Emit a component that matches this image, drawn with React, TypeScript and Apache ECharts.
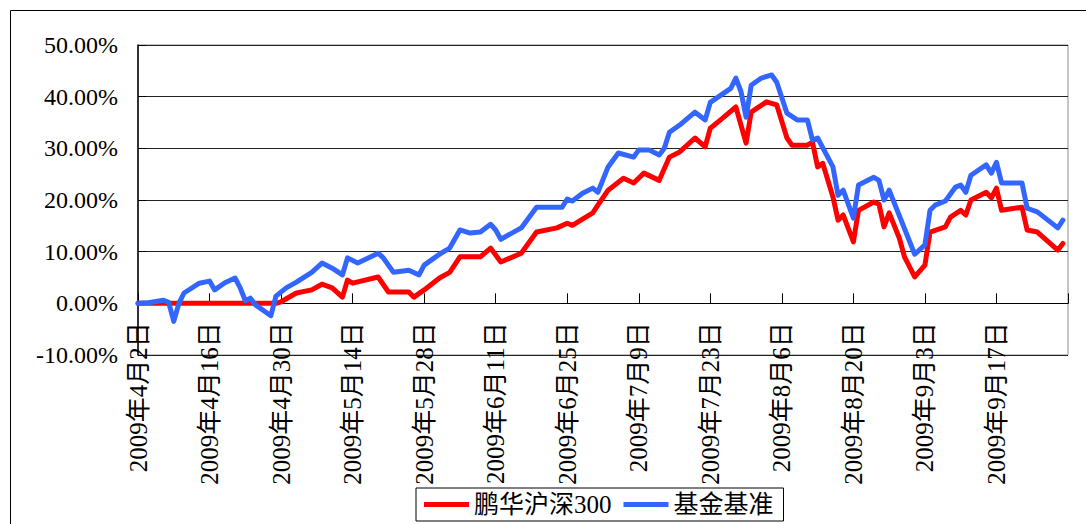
import React, { useEffect, useRef } from "react";
import * as echarts from "echarts";

const START_DATE = "2009-04-02";
const END_DATE = "2009-10-01";
const Y_MIN = -10;
const Y_MAX = 50;
const Y_STEP = 10;
const LABEL_EVERY = 14;

const seriesNames = ["鹏华沪深300", "基金基准"];

const redDates = [
  "2009-04-02", "2009-04-16", "2009-04-29", "2009-04-30", "2009-05-03", "2009-05-06", "2009-05-08",
  "2009-05-10", "2009-05-12", "2009-05-13", "2009-05-14", "2009-05-19", "2009-05-21", "2009-05-25",
  "2009-05-26", "2009-05-28", "2009-05-31", "2009-06-02", "2009-06-04", "2009-06-08", "2009-06-10",
  "2009-06-12", "2009-06-16", "2009-06-19", "2009-06-23", "2009-06-25", "2009-06-26", "2009-06-30",
  "2009-07-01", "2009-07-03", "2009-07-06", "2009-07-08", "2009-07-10", "2009-07-13", "2009-07-15",
  "2009-07-17", "2009-07-20", "2009-07-22", "2009-07-23", "2009-07-25", "2009-07-28", "2009-07-30",
  "2009-07-31", "2009-08-03", "2009-08-05", "2009-08-07", "2009-08-08", "2009-08-11", "2009-08-12",
  "2009-08-13", "2009-08-14", "2009-08-16", "2009-08-17", "2009-08-18", "2009-08-20", "2009-08-21",
  "2009-08-24", "2009-08-25", "2009-08-26", "2009-08-27", "2009-08-29", "2009-08-30", "2009-09-01",
  "2009-09-03", "2009-09-04", "2009-09-07", "2009-09-08", "2009-09-10", "2009-09-11", "2009-09-12",
  "2009-09-15", "2009-09-16", "2009-09-17", "2009-09-18", "2009-09-22", "2009-09-23", "2009-09-25",
  "2009-09-29", "2009-09-30",
];
const redValues = [
  0, 0, 0, 0.3, 2.0, 2.6, 3.7,
  3.0, 1.2, 4.5, 3.9, 5.1, 2.2, 2.2,
  1.2, 2.6, 4.9, 6.0, 9.0, 9.0, 10.7,
  8.0, 9.7, 13.8, 14.6, 15.5, 15.1, 17.5,
  19.0, 21.9, 24.2, 23.3, 25.2, 23.8, 28.3,
  29.3, 32.0, 30.3, 33.9, 35.5, 38.0, 31.0,
  37.0, 39.0, 38.4, 32.0, 30.6, 30.6, 31.2,
  26.4, 27.1, 20.6, 16.1, 17.1, 11.9, 18.0,
  19.6, 19.2, 14.8, 17.5, 12.6, 9.0, 5.1,
  7.4, 13.8, 14.8, 16.7, 18.0, 17.1, 20.0,
  21.5, 20.4, 22.3, 18.0, 18.6, 14.2, 13.8,
  10.3, 11.6,
];

const blueDates = [
  "2009-04-02", "2009-04-04", "2009-04-07", "2009-04-08", "2009-04-09", "2009-04-10", "2009-04-11",
  "2009-04-14", "2009-04-16", "2009-04-17", "2009-04-19", "2009-04-21", "2009-04-22", "2009-04-23",
  "2009-04-24", "2009-04-25", "2009-04-28", "2009-04-29", "2009-05-01", "2009-05-03", "2009-05-06",
  "2009-05-08", "2009-05-10", "2009-05-12", "2009-05-13", "2009-05-15", "2009-05-19", "2009-05-20",
  "2009-05-22", "2009-05-25", "2009-05-27", "2009-05-28", "2009-05-30", "2009-05-31", "2009-06-02",
  "2009-06-04", "2009-06-06", "2009-06-08", "2009-06-10", "2009-06-11", "2009-06-12", "2009-06-16",
  "2009-06-19", "2009-06-24", "2009-06-25", "2009-06-26", "2009-06-28", "2009-06-30", "2009-07-01",
  "2009-07-03", "2009-07-05", "2009-07-08", "2009-07-09", "2009-07-11", "2009-07-13", "2009-07-14",
  "2009-07-15", "2009-07-17", "2009-07-20", "2009-07-22", "2009-07-23", "2009-07-27", "2009-07-28",
  "2009-07-29", "2009-07-30", "2009-07-31", "2009-08-02", "2009-08-04", "2009-08-05", "2009-08-07",
  "2009-08-09", "2009-08-11", "2009-08-12", "2009-08-13", "2009-08-16", "2009-08-17", "2009-08-18",
  "2009-08-20", "2009-08-21", "2009-08-24", "2009-08-25", "2009-08-26", "2009-08-27", "2009-09-01",
  "2009-09-03", "2009-09-04", "2009-09-05", "2009-09-07", "2009-09-09", "2009-09-10", "2009-09-11",
  "2009-09-12", "2009-09-15", "2009-09-16", "2009-09-17", "2009-09-18", "2009-09-22", "2009-09-23",
  "2009-09-25", "2009-09-29", "2009-09-30",
];
const blueValues = [
  0, 0.1, 0.6, 0.2, -3.5, 0.0, 2.0,
  3.9, 4.3, 2.6, 4.0, 4.9, 3.0, 0.5,
  1.0, -0.3, -2.4, 1.4, 3.0, 4.1, 6.0,
  7.8, 6.8, 5.5, 8.8, 7.8, 9.7, 8.8,
  6.0, 6.4, 5.5, 7.4, 8.8, 9.5, 10.7,
  14.2, 13.6, 13.8, 15.3, 14.2, 12.4, 14.6,
  18.6, 18.6, 20.2, 19.8, 21.3, 22.3, 21.5,
  26.4, 29.1, 28.3, 29.7, 29.7, 28.7, 30.0,
  33.1, 34.5, 37.0, 35.5, 38.9, 41.6, 43.6,
  41.0, 36.0, 42.2, 43.6, 44.2, 42.8, 36.8,
  35.5, 35.5, 31.6, 32.0, 26.4, 20.9, 21.9,
  16.5, 22.9, 24.4, 23.8, 20.0, 21.9, 9.5,
  11.3, 18.0, 19.0, 19.8, 22.5, 22.9, 21.5,
  24.8, 26.8, 25.2, 27.3, 23.3, 23.3, 18.4,
  17.7, 14.6, 16.1,
];

function buildCategories(): string[] {
  const out: string[] = [];
  const [sy, sm, sd] = START_DATE.split("-").map(Number);
  const [ey, em, ed] = END_DATE.split("-").map(Number);
  let t = Date.UTC(sy, sm - 1, sd);
  const end = Date.UTC(ey, em - 1, ed);
  while (t <= end) {
    const d = new Date(t);
    const s =
      d.getUTCFullYear() +
      "-" +
      String(d.getUTCMonth() + 1).padStart(2, "0") +
      "-" +
      String(d.getUTCDate()).padStart(2, "0");
    out.push(s);
    t += 86400000;
  }
  return out;
}

function alignToCategories(categories: string[], dates: string[], values: number[]) {
  const m = new Map<string, number>();
  dates.forEach((d, i) => m.set(d, values[i]));
  return categories.map((c) => (m.has(c) ? (m.get(c) as number) : null));
}

function fmtDate(s: string) {
  const [y, m, d] = s.split("-").map(Number);
  return `${y}年${m}月${d}日`;
}

const FONT = "'Liberation Serif', 'Noto Sans CJK SC', serif";
const GRID_TOP = 45;
const GRID_BOTTOM = 169;
const CHART_H = 524;

export default function App() {
  const ref = useRef<HTMLDivElement>(null);
  useEffect(() => {
    if (!ref.current) return;
    const chart = echarts.init(ref.current, undefined, { renderer: "svg" });
    const categories = buildCategories();
    const last = categories.length - 1;
    const redData = alignToCategories(categories, redDates, redValues);
    const blueData = alignToCategories(categories, blueDates, blueValues);
    const gridH = CHART_H - GRID_TOP - GRID_BOTTOM;
    const zeroOffset = -(gridH * (0 - Y_MIN)) / (Y_MAX - Y_MIN);
    chart.setOption({
      animation: false,
      backgroundColor: "#ffffff",
      textStyle: { fontFamily: FONT },
      graphic: [
        {
          type: "rect",
          shape: { x: 10.5, y: 10.5, width: 1100, height: 600 },
          style: { fill: "none", stroke: "#000", lineWidth: 1 },
          silent: true,
          z: -1,
        },
      ],
      grid: {
        left: 138,
        right: 18,
        top: GRID_TOP,
        bottom: GRID_BOTTOM,
        show: true,
        borderColor: "#8c8c8c",
        borderWidth: 1,
        backgroundColor: "transparent",
        containLabel: false,
        outerBoundsMode: "none",
      },
      legend: {
        data: seriesNames,
        left: 416,
        top: 488,
        padding: [4, 10, 4, 8],
        itemGap: 12,
        itemWidth: 45,
        itemHeight: 5,
        icon: "rect",
        borderColor: "#000",
        borderWidth: 1,
        backgroundColor: "#fff",
        textStyle: { fontFamily: FONT, fontSize: 25, color: "#000" },
      },
      xAxis: {
        type: "category",
        data: categories,
        boundaryGap: false,
        offset: zeroOffset,
        axisLine: { onZero: false, lineStyle: { color: "#000", width: 1 } },
        axisTick: {
          show: true,
          inside: true,
          length: 10,
          interval: (i: number) => i % LABEL_EVERY === 0,
          lineStyle: { color: "#000" },
        },
        axisLabel: {
          rotate: 90,
          margin: 19,
          fontSize: 25,
          color: "#000",
          fontFamily: FONT,
          interval: (i: number) => i % LABEL_EVERY === 0 && i < last,
          formatter: (v: string) => fmtDate(v),
        },
        splitLine: { show: false },
      },
      yAxis: {
        type: "value",
        min: Y_MIN,
        max: Y_MAX,
        interval: Y_STEP,
        axisLine: { show: true, onZero: false, lineStyle: { color: "#000", width: 1.5 } },
        axisTick: { show: true, inside: true, length: 8, lineStyle: { color: "#000" } },
        axisLabel: {
          margin: 20,
          fontSize: 24,
          color: "#000",
          fontFamily: FONT,
          formatter: (v: number) => v.toFixed(2) + "%",
        },
        splitLine: { show: true, lineStyle: { color: "#222", width: 1 } },
      },
      series: [
        {
          name: seriesNames[0],
          type: "line",
          data: redData,
          connectNulls: true,
          showSymbol: false,
          symbol: "none",
          color: "#ff0000",
          lineStyle: { color: "#ff0000", width: 5, cap: "round", join: "round" },
        },
        {
          name: seriesNames[1],
          type: "line",
          data: blueData,
          connectNulls: true,
          showSymbol: false,
          symbol: "none",
          color: "#3366ff",
          lineStyle: { color: "#3366ff", width: 5, cap: "round", join: "round" },
        },
      ],
    });
    return () => chart.dispose();
  }, []);
  return (
    <div
      ref={ref}
      style={{ position: "fixed", left: 0, top: 0, width: 1086, height: 524, background: "#fff" }}
    />
  );
}
